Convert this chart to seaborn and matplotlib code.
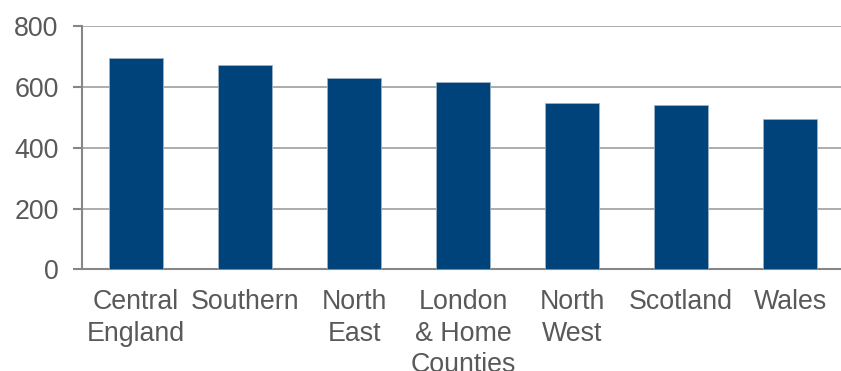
import matplotlib
matplotlib.use("Agg")
import matplotlib.pyplot as plt
import seaborn as sns
import pandas as pd

regions = ["Central\nEngland", "Southern", "North\nEast", "London\n& Home\nCounties",
           "North\nWest", "Scotland", "Wales"]
values = [696, 673, 628, 615, 548, 540, 493]
y_ticks = [0, 200, 400, 600, 800]

sns.set_theme(style="white")
plt.rcParams["font.family"] = ["Liberation Sans", "DejaVu Sans"]

df = pd.DataFrame({"region": regions, "value": values})

fig = plt.figure(figsize=(8.41, 3.71), dpi=100)
ax = fig.add_axes([0.0971, 0.2736, 0.9073, 0.6563])

sns.barplot(data=df, x="region", y="value", color="#00427a", saturation=1,
            width=0.5, edgecolor="#9bb2c9", linewidth=0.6, ax=ax, zorder=3)

ax.set_ylim(0, 800)
ax.set_xlim(-0.5, 6.5)
ax.set_yticks(y_ticks)
ax.set_xlabel("")
ax.set_ylabel("")

ax.yaxis.grid(True, color="#a6a6a6", linewidth=1.3, zorder=0)
ax.set_axisbelow(True)

for side in ("top", "right"):
    ax.spines[side].set_visible(False)
for side in ("left", "bottom"):
    ax.spines[side].set_color("#868686")
    ax.spines[side].set_linewidth(1.5)

ax.tick_params(axis="y", which="major", left=True, length=6.5, width=1.5,
               color="#868686", pad=10, labelsize=19.3, labelcolor="#595959")
ax.tick_params(axis="x", which="major", bottom=False, pad=8,
               labelsize=19.3, labelcolor="#595959")
for lbl in ax.get_xticklabels():
    lbl.set_linespacing(1.28)

fig.savefig("out.png", dpi=100)
